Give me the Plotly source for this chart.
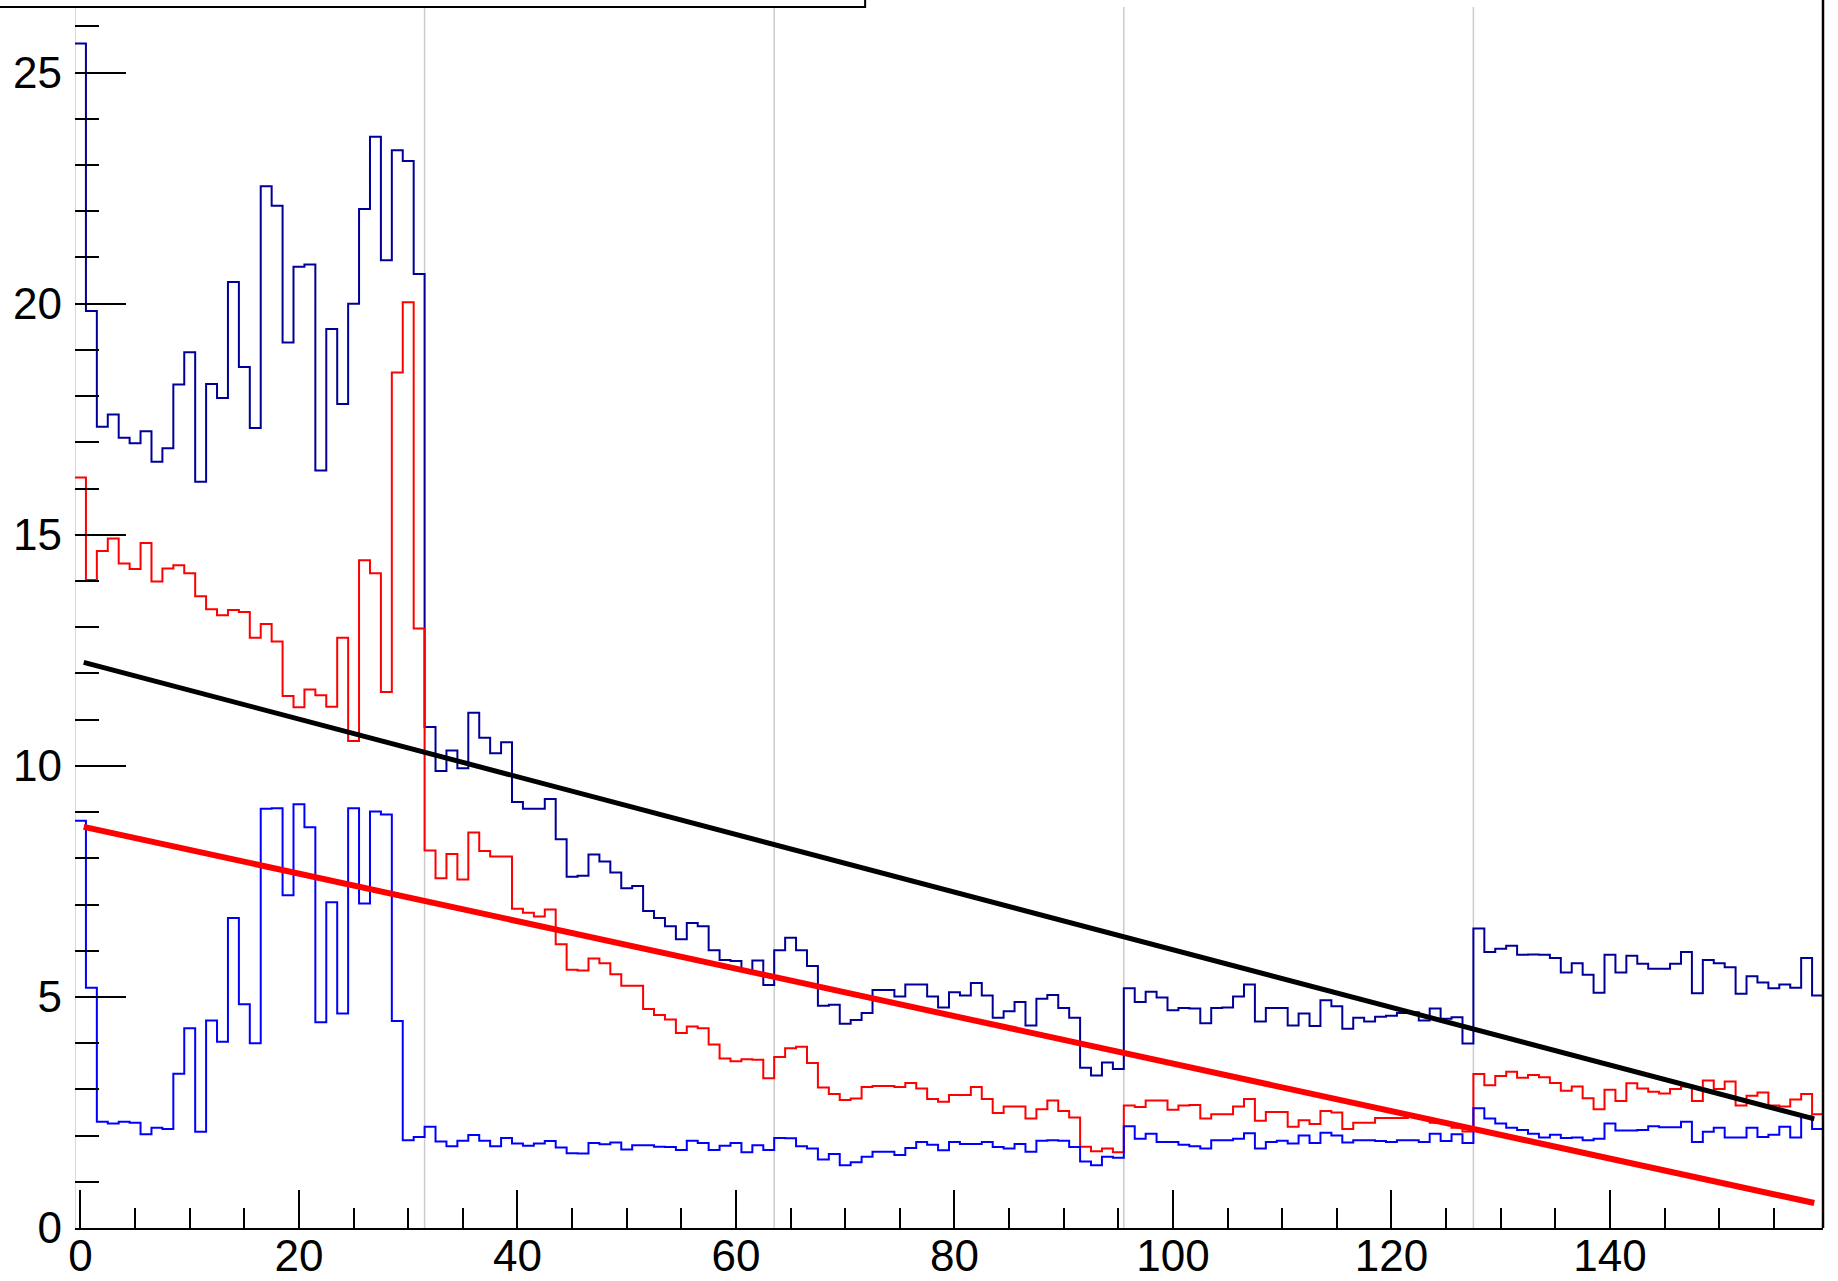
import numpy as np
import plotly.graph_objects as go

# ---------------- data ----------------
n_bins = 160
x_low, x_high = -0.5, 159.5

navy_vals = [25.63, 19.84, 17.34, 17.60, 17.10, 16.98, 17.24, 16.58, 16.87, 18.25,
             18.95, 16.15, 18.26, 17.96, 20.47, 18.63, 17.31, 22.54, 22.12, 19.16,
             20.80, 20.85, 16.39, 19.45, 17.83, 20.00, 22.05, 23.61, 20.94, 23.32,
             23.09, 20.64, 10.84, 9.89, 10.33, 9.95, 11.15, 10.61, 10.27, 10.51,
             9.22, 9.07, 9.07, 9.28, 8.41, 7.60, 7.62, 8.08, 7.93, 7.69,
             7.35, 7.40, 6.86, 6.71, 6.53, 6.25, 6.60, 6.53, 6.01, 5.80,
             5.78, 5.57, 5.79, 5.26, 6.01, 6.28, 6.01, 5.67, 4.81, 4.83,
             4.42, 4.50, 4.65, 5.15, 5.15, 5.01, 5.27, 5.27, 5.01, 4.77,
             5.10, 5.03, 5.30, 5.03, 4.55, 4.69, 4.89, 4.38, 4.96, 5.04,
             4.76, 4.55, 3.47, 3.30, 3.58, 3.44, 5.19, 4.89, 5.11, 4.99,
             4.71, 4.76, 4.75, 4.43, 4.76, 4.77, 5.01, 5.27, 4.47, 4.76,
             4.76, 4.38, 4.64, 4.37, 4.93, 4.80, 4.31, 4.55, 4.47, 4.57,
             4.59, 4.65, 4.67, 4.49, 4.75, 4.53, 4.56, 3.99, 6.48, 5.97,
             6.04, 6.11, 5.91, 5.92, 5.91, 5.84, 5.53, 5.73, 5.48, 5.09,
             5.91, 5.53, 5.89, 5.72, 5.61, 5.61, 5.72, 5.97, 5.08, 5.80,
             5.73, 5.64, 5.07, 5.45, 5.31, 5.19, 5.27, 5.20, 5.84, 5.03]

red_vals = [16.24, 14.02, 14.65, 14.92, 14.38, 14.26, 14.82, 13.99, 14.27, 14.34,
            14.17, 13.67, 13.39, 13.26, 13.37, 13.33, 12.77, 13.07, 12.69, 11.51,
            11.27, 11.65, 11.53, 11.28, 12.77, 10.54, 14.45, 14.17, 11.60, 18.51,
            20.03, 12.97, 8.17, 7.57, 8.09, 7.54, 8.56, 8.16, 8.04, 8.04,
            6.91, 6.82, 6.74, 6.89, 6.14, 5.59, 5.57, 5.83, 5.73, 5.49,
            5.24, 5.24, 4.74, 4.61, 4.51, 4.22, 4.36, 4.32, 3.97, 3.67,
            3.61, 3.65, 3.64, 3.24, 3.70, 3.89, 3.92, 3.57, 3.04, 2.90,
            2.77, 2.80, 3.05, 3.07, 3.07, 3.05, 3.14, 3.02, 2.79, 2.73,
            2.88, 2.88, 3.05, 2.79, 2.49, 2.63, 2.63, 2.37, 2.57, 2.76,
            2.53, 2.39, 1.76, 1.66, 1.72, 1.64, 2.65, 2.62, 2.76, 2.76,
            2.56, 2.65, 2.66, 2.37, 2.46, 2.46, 2.63, 2.79, 2.32, 2.51,
            2.51, 2.19, 2.33, 2.25, 2.53, 2.50, 2.14, 2.28, 2.28, 2.38,
            2.38, 2.38, 2.40, 2.36, 2.28, 2.28, 2.17, 2.09, 3.33, 3.09,
            3.29, 3.38, 3.25, 3.31, 3.26, 3.14, 2.97, 3.06, 2.81, 2.57,
            2.99, 2.75, 3.13, 3.02, 2.95, 2.91, 3.01, 3.06, 2.75, 3.19,
            3.01, 3.17, 2.65, 2.86, 2.93, 2.65, 2.63, 2.78, 2.90, 2.46]

blue_vals = [8.81, 5.20, 2.30, 2.26, 2.30, 2.28, 2.03, 2.17, 2.14, 3.34,
             4.32, 2.08, 4.49, 4.03, 6.71, 4.84, 4.00, 9.07, 9.08, 7.20,
             9.17, 8.67, 4.45, 7.05, 4.64, 9.08, 7.02, 9.01, 8.95, 4.48,
             1.90, 1.97, 2.19, 1.87, 1.77, 1.89, 2.01, 1.89, 1.77, 1.95,
             1.83, 1.78, 1.83, 1.88, 1.74, 1.62, 1.61, 1.84, 1.81, 1.85,
             1.70, 1.79, 1.79, 1.76, 1.75, 1.69, 1.89, 1.84, 1.69, 1.78,
             1.84, 1.64, 1.79, 1.69, 1.95, 1.94, 1.77, 1.72, 1.48, 1.60,
             1.36, 1.42, 1.54, 1.65, 1.65, 1.58, 1.73, 1.86, 1.80, 1.68,
             1.86, 1.82, 1.82, 1.86, 1.75, 1.72, 1.82, 1.65, 1.89, 1.90,
             1.89, 1.75, 1.44, 1.36, 1.54, 1.52, 2.20, 1.93, 2.04, 1.86,
             1.86, 1.80, 1.77, 1.72, 1.90, 1.90, 1.93, 2.05, 1.72, 1.86,
             1.89, 1.83, 2.00, 1.84, 2.06, 2.00, 1.85, 1.90, 1.90, 1.88,
             1.86, 1.90, 1.90, 1.86, 2.04, 1.88, 2.03, 1.84, 2.59, 2.37,
             2.26, 2.17, 2.12, 2.04, 1.96, 2.02, 1.95, 1.96, 1.90, 1.93,
             2.26, 2.11, 2.11, 2.12, 2.20, 2.18, 2.18, 2.30, 1.86, 2.08,
             2.17, 1.96, 1.96, 2.17, 1.97, 2.02, 2.19, 1.96, 2.41, 2.14]

fit_x = [0.3, 158.7]
fit_black_y = [12.24, 2.36]
fit_red_y = [8.68, 0.54]

grid_x = [-0.5, 31.5, 63.5, 95.5, 127.5]

x_tickvals = [0, 20, 40, 60, 80, 100, 120, 140]
y_tickvals = [0, 5, 10, 15, 20, 25]
y_max = 26.42

# ---------------- figure ----------------
W, H = 1838, 1281
ml, mr, mt, mb = 74.5, 14.7, 7, 53
pw = W - ml - mr
ph = H - mt - mb

edges = np.linspace(x_low, x_high, n_bins + 1)


def step_trace(vals, color):
    ys = list(vals) + [vals[-1]]
    return go.Scatter(x=edges, y=ys, mode="lines", line=dict(shape="hv", color=color, width=2),
                      hoverinfo="skip", showlegend=False)


fig = go.Figure()
fig.add_trace(step_trace(navy_vals, "#000099"))
fig.add_trace(step_trace(red_vals, "#ff0000"))
fig.add_trace(step_trace(blue_vals, "#0000ff"))
fig.add_trace(go.Scatter(x=fit_x, y=fit_black_y, mode="lines",
                         line=dict(color="black", width=5), showlegend=False))
fig.add_trace(go.Scatter(x=fit_x, y=fit_red_y, mode="lines",
                         line=dict(color="#ff0000", width=6), showlegend=False))

shapes = []
for gx in grid_x:
    shapes.append(dict(type="line", xref="x", yref="paper", x0=gx, x1=gx, y0=0, y1=1,
                       line=dict(color="#cccccc", width=1.5), layer="below"))
# right frame line
shapes.append(dict(type="line", xref="paper", yref="paper", x0=1, x1=1, y0=0, y1=1 + mt / ph,
                   line=dict(color="black", width=2.5)))
# title box (cut off at the top)
shapes.append(dict(type="rect", xref="paper", yref="paper",
                   x0=(-6 - ml) / pw, x1=(865 - ml) / pw, y0=1, y1=1 + 30 / ph,
                   line=dict(color="black", width=2), fillcolor="white"))

font = dict(family="Liberation Sans, Arial, Helvetica, sans-serif", size=44, color="black")

fig.update_layout(
    width=W, height=H,
    margin=dict(l=ml, r=mr, t=mt, b=mb, pad=0, autoexpand=False),
    paper_bgcolor="white", plot_bgcolor="white",
    shapes=shapes,
    showlegend=False,
    font=font,
    xaxis=dict(range=[x_low, x_high], tickvals=x_tickvals, ticks="inside", ticklen=38,
               tickwidth=2, tickcolor="black", showgrid=False, zeroline=False,
               showline=True, linecolor="black", linewidth=2, automargin=False,
               tickfont=font, ticklabelstandoff=-12,
               minor=dict(dtick=5, tick0=0, ticks="inside", ticklen=20, tickwidth=2,
                          tickcolor="black", showgrid=False)),
    yaxis=dict(range=[0, y_max], tickvals=y_tickvals, ticks="inside", ticklen=51,
               tickwidth=2, tickcolor="black", showgrid=False, zeroline=False,
               showline=False, tickfont=font, ticklabelstandoff=12, automargin=False,
               minor=dict(dtick=1, tick0=0, ticks="inside", ticklen=24, tickwidth=2,
                          tickcolor="black", showgrid=False)),
)

fig.write_html("out.html", post_script="document.body.style.margin='0';",
               config={"displayModeBar": False})
